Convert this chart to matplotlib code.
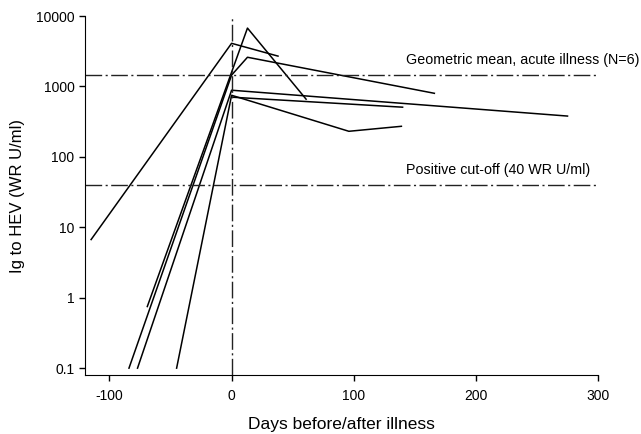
import numpy as np
import matplotlib.pyplot as plt
from matplotlib.ticker import FixedLocator, FixedFormatter, NullLocator

plt.rcParams['font.family'] = ['Liberation Sans', 'DejaVu Sans']
plt.rcParams['axes.unicode_minus'] = False

# patient series: days before/after illness, Ig to HEV (WR U/ml)
days_a = [-115, 0, 38]
vals_a = [6.7, 4100, 2700]
days_b = [-69, 13, 61]
vals_b = [0.75, 6750, 660]
days_c = [-84, 0, 13, 166]
vals_c = [0.1, 1450, 2600, 800]
days_d = [-77, 0, 275]
vals_d = [0.1, 885, 380]
days_e = [0, 140]
vals_e = [705, 508]
days_f = [-45, 0, 96, 139]
vals_f = [0.1, 750, 231, 272]

geo_mean = 1450
cutoff = 40

yticks = [0.1, 1, 10, 100, 1000, 10000]
ytick_labels = ['0.1', '1', '10', '100', '1000', '10000']
xticks = [-100, 0, 100, 200, 300]

fig = plt.figure(figsize=(6.41, 4.34), dpi=100)
ax = fig.add_axes([0.1326, 0.136, 0.8004, 0.827])

for d, v in [(days_a, vals_a), (days_b, vals_b), (days_c, vals_c),
             (days_d, vals_d), (days_e, vals_e), (days_f, vals_f)]:
    ax.plot(d, v, color='black', lw=1.1)

dash = (0, (12, 2.5, 1.5, 2.5))
ax.axhline(geo_mean, color='#222222', lw=1, linestyle=dash)
ax.axhline(cutoff, color='#222222', lw=1, linestyle=dash)
ax.axvline(0, color='#222222', lw=1, linestyle=dash)

ax.text(143, geo_mean * 1.3, 'Geometric mean, acute illness (N=6)', fontsize=10.3, va='bottom')
ax.text(143, cutoff * 1.3, 'Positive cut-off (40 WR U/ml)', fontsize=10.3, va='bottom')

ax.set_yscale('log')
ax.set_xlim(-120, 300)
ax.set_ylim(0.08, 10000)
ax.yaxis.set_major_locator(FixedLocator(yticks))
ax.yaxis.set_major_formatter(FixedFormatter(ytick_labels))
ax.yaxis.set_minor_locator(NullLocator())
ax.set_xticks(xticks)

ax.spines['top'].set_visible(False)
ax.spines['right'].set_visible(False)
ax.tick_params(direction='out', length=4, width=1, labelsize=10)
ax.tick_params(axis='x', pad=6)

ax.set_xlabel('Days before/after illness', fontsize=12.5, labelpad=10)
ax.set_ylabel('Ig to HEV (WR U/ml)', fontsize=12, labelpad=8)

fig.savefig('out.png', dpi=100)
